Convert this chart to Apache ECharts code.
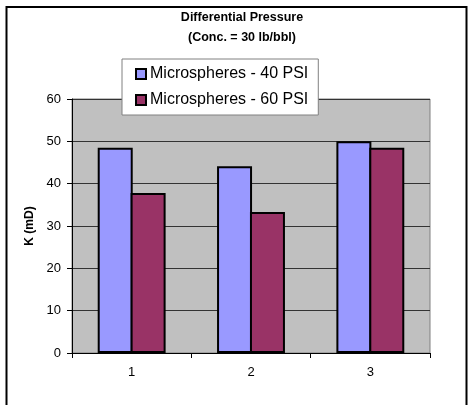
<!DOCTYPE html>
<html>
<head>
<meta charset="utf-8">
<script src="https://cdn.jsdelivr.net/npm/echarts@6/dist/echarts.min.js"></script>
<style>
  html, body { margin: 0; padding: 0; background: #fff; }
  #main { width: 468px; height: 405px; }
</style>
</head>
<body>
<div id="main"></div>
<script>
// data
const categories = ['1', '2', '3']
const psi40 = [48.5, 44.1, 50.0]
const psi60 = [37.8, 33.3, 48.5]
const seriesNames = ['Microspheres - 40 PSI', 'Microspheres - 60 PSI']

const font = 'Arial, "Liberation Sans", sans-serif'

const chart = echarts.init(document.getElementById('main'), null, { renderer: 'canvas' })

const option = {
  backgroundColor: '#fff',
  animation: false,
  // outer chart frame, bottom edge runs off the picture
  graphic: [{
    type: 'rect',
    shape: { x: 6.5, y: 7, width: 460, height: 430 },
    style: { fill: null, stroke: '#000', lineWidth: 2 },
    z: 0
  }],
  title: {
    text: 'Differential Pressure\n(Conc. = 30 lb/bbl)',
    left: 237,
    textAlign: 'center',
    top: 3,
    textStyle: {
      fontFamily: font,
      fontSize: 12.5,
      fontWeight: 'bold',
      color: '#000',
      lineHeight: 20
    }
  },
  legend: {
    orient: 'vertical',
    left: 122,
    top: 59,
    width: 197,
    padding: [7, 10, 7, 13],
    itemWidth: 10,
    itemHeight: 10,
    itemGap: 10,
    backgroundColor: '#fff',
    borderColor: '#808080',
    borderWidth: 1,
    icon: 'rect',
    textStyle: {
      fontFamily: font,
      fontSize: 16,
      color: '#000',
      lineHeight: 16,
      padding: [0, 0, 0, -1]
    },
    data: seriesNames
  },
  grid: {
    left: 72,
    right: 38,
    top: 99,
    bottom: 52,
    show: true,
    backgroundColor: '#c0c0c0',
    borderColor: '#808080',
    borderWidth: 1
  },
  xAxis: {
    type: 'category',
    data: categories,
    axisLine: { lineStyle: { color: '#000', width: 1 } },
    axisTick: { show: true, length: 5, lineStyle: { color: '#000' } },
    axisLabel: { fontFamily: font, fontSize: 13, color: '#000', margin: 13 }
  },
  yAxis: {
    type: 'value',
    min: 0,
    max: 60,
    interval: 10,
    name: 'K (mD)',
    nameLocation: 'middle',
    nameGap: 28,
    nameRotate: 90,
    nameTextStyle: { fontFamily: font, fontSize: 12, fontWeight: 'bold', color: '#000' },
    axisLine: { show: true, lineStyle: { color: '#000', width: 1 } },
    axisTick: { show: true, length: 5, lineStyle: { color: '#000' } },
    axisLabel: { fontFamily: font, fontSize: 13, color: '#000', margin: 11 },
    splitLine: { show: true, lineStyle: { color: '#333', width: 1 } }
  },
  series: [{
    name: seriesNames[0],
    type: 'bar',
    data: psi40,
    barWidth: 35,
    barGap: '-6%',
    itemStyle: { color: '#9999ff', borderColor: '#000', borderWidth: 2 }
  }, {
    name: seriesNames[1],
    type: 'bar',
    data: psi60,
    barWidth: 35,
    barGap: '-6%',
    itemStyle: { color: '#993366', borderColor: '#000', borderWidth: 2 }
  }]
}

chart.setOption(option)
</script>
</body>
</html>
